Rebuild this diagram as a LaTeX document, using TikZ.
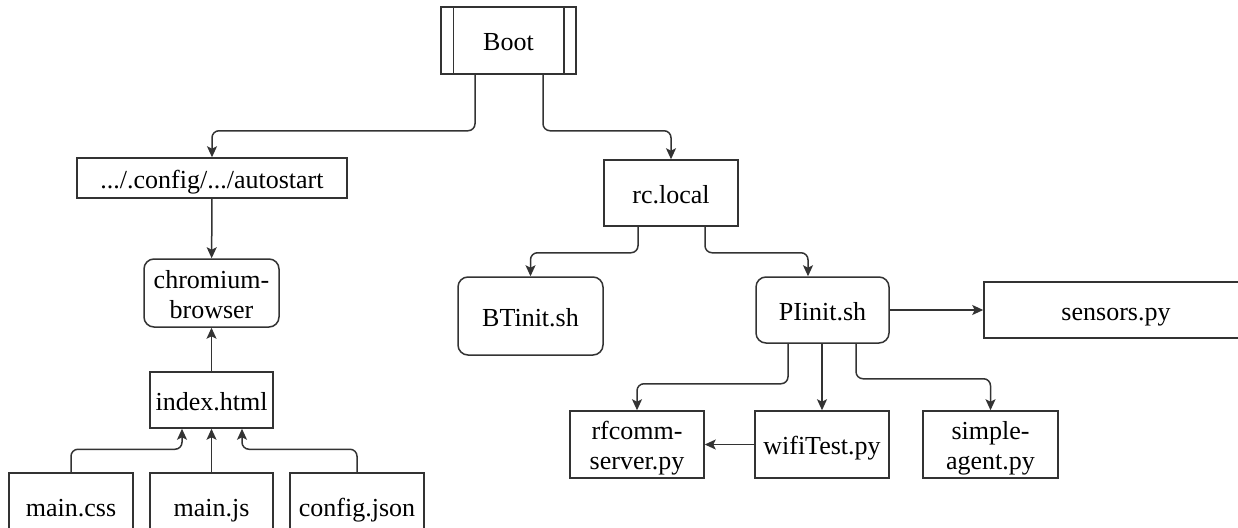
\documentclass[tikz,border=0pt]{standalone}
\usepackage{fontspec}
\setmainfont{Liberation Serif}
\usepackage{tikz}
\usetikzlibrary{arrows.meta,positioning}

\begin{document}
\begin{tikzpicture}[x=1pt,y=-1pt,>={Stealth[length=11pt,width=10pt,inset=2.5pt]},
  line width=1.5pt,draw=black!80,
  box/.style={draw,inner sep=0pt,align=center,text height=24pt,text depth=4pt,
    font=\fontsize{26}{30}\selectfont},
  twoline/.style={text height=54pt},
  rbox/.style={box,rounded corners=10pt},
  link/.style={->,rounded corners=7pt}]
\useasboundingbox (0,0) rectangle (1238,527);
\clip (0,0) rectangle (1238,527);
% start
\node[box,minimum width=135pt,minimum height=67pt](boot)at(508.5,40.5){Boot};
\draw([xshift=13pt]boot.north west)--([xshift=13pt]boot.south west);
\draw([xshift=-13pt]boot.north east)--([xshift=-13pt]boot.south east);
% browser side
\node[box,minimum width=270pt,minimum height=40pt](autostart)at(212,178){.../.config/.../autostart};
\node[rbox,twoline,minimum width=135pt,minimum height=68pt](chromium)at(211.5,293){chromium-\\browser};
\node[box,minimum width=123pt,minimum height=56pt](index)at(211.5,400){index.html};
\node[box,minimum width=124pt,minimum height=67pt](css)at(71,506.5){main.css};
\node[box,minimum width=123pt,minimum height=67pt](js)at(211.5,506.5){main.js};
\node[box,minimum width=134pt,minimum height=67pt](cfg)at(357,506.5){config.json};
% scripts side
\node[box,minimum width=134pt,minimum height=66pt](rclocal)at(671,193){rc.local};
\node[rbox,minimum width=145pt,minimum height=78pt](btinit)at(530.5,316){BTinit.sh};
\node[rbox,minimum width=133pt,minimum height=66pt](piinit)at(822.5,310){PIinit.sh};
\node[box,minimum width=264pt,minimum height=56pt](sensors)at(1116,310){sensors.py};
\node[box,twoline,minimum width=134pt,minimum height=67pt](rfcomm)at(637,444.5){rfcomm-\\server.py};
\node[box,minimum width=134pt,minimum height=67pt](wifi)at(822,444.5){wifiTest.py};
\node[box,twoline,minimum width=135pt,minimum height=67pt](agent)at(990.5,444.5){simple-\\agent.py};
% connectors
\draw[link]([xshift=-33.5pt]boot.south)--++(0,56)-|(autostart.north);
\draw[link]([xshift=34.5pt]boot.south)--++(0,56)-|(rclocal.north);
\draw[->](autostart)--(chromium);
\draw[->](index)--(chromium);
\draw[link](css.north)--++(0,-23)-|([xshift=-29.5pt]index.south);
\draw[->](js)--(index);
\draw[link](cfg.north)--++(0,-23)-|([xshift=30.5pt]index.south);
\draw[link]([xshift=-33pt]rclocal.south)--++(0,26)-|(btinit.north);
\draw[link]([xshift=34pt]rclocal.south)--++(0,26)-|([xshift=-14.5pt]piinit.north);
\draw[->](piinit)--(sensors);
\draw[link]([xshift=-34.5pt]piinit.south)--++(0,40)-|(rfcomm.north);
\draw[->](piinit.south-|wifi.north)--(wifi.north);
\draw[link]([xshift=33.5pt]piinit.south)--++(0,35)-|(agent.north);
\draw[->](wifi)--(rfcomm);
\end{tikzpicture}
\end{document}
